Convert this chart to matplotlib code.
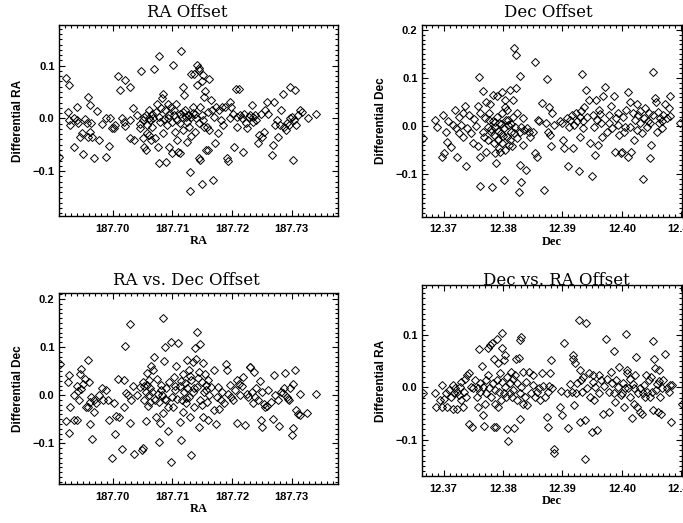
import matplotlib
matplotlib.use('Agg')
from matplotlib import pyplot as plt
from matplotlib.ticker import MultipleLocator, FuncFormatter

ra_offset = [
    (187.69095, -0.073), (187.6922, 0.076), (187.6926, 0.063), (187.6925, 0.013), (187.6927, -0.004),
    (187.6928, -0.013), (187.6935, 0.000), (187.6939, 0.021), (187.6935, -0.054), (187.6940, -0.003),
    (187.6942, -0.009), (187.6944, -0.035), (187.6948, -0.027), (187.6950, -0.068), (187.6954, -0.002),
    (187.6956, -0.009), (187.6959, 0.040), (187.6958, -0.035), (187.6962, 0.025), (187.6963, -0.009),
    (187.6961, -0.025), (187.6965, -0.035), (187.6969, -0.076), (187.6973, 0.014), (187.6976, -0.041),
    (187.6982, -0.011), (187.6988, -0.073), (187.6989, 0.000), (187.6993, -0.053), (187.6996, 0.000),
    (187.6998, -0.019), (187.7002, -0.019), (187.7004, -0.013), (187.7008, 0.080), (187.7012, 0.053),
    (187.7015, 0.001), (187.7018, -0.006), (187.7021, 0.073), (187.7021, -0.015), (187.7028, 0.059),
    (187.7028, -0.003), (187.7029, -0.038), (187.7034, 0.019), (187.7036, -0.041), (187.7040, 0.006),
    (187.7045, -0.019), (187.7048, 0.090), (187.7050, -0.003), (187.7051, -0.038), (187.7053, -0.054),
    (187.7055, -0.059), (187.7056, 0.006), (187.7057, -0.028), (187.7058, -0.013), (187.7060, 0.016),
    (187.7061, -0.032), (187.7063, -0.003), (187.7064, -0.041), (187.7065, 0.009), (187.7069, 0.093),
    (187.7068, 0.000), (187.7071, -0.038), (187.7074, 0.028), (187.7075, -0.054), (187.7077, 0.118),
    (187.7078, 0.003), (187.7078, -0.084), (187.7081, 0.019), (187.7082, 0.038), (187.7084, 0.047),
    (187.7085, -0.028), (187.7086, -0.002), (187.7088, 0.016), (187.7089, -0.082), (187.7091, -0.013),
    (187.7092, 0.028), (187.7094, -0.054), (187.7095, 0.006), (187.7097, 0.022), (187.7099, -0.006),
    (187.7099, -0.065), (187.7101, 0.101), (187.7103, 0.006), (187.7104, -0.025), (187.7106, 0.028),
    (187.7107, -0.003), (187.7108, -0.041), (187.7110, -0.063), (187.7112, 0.009), (187.7113, -0.065),
    (187.7114, 0.128), (187.7116, 0.003), (187.7117, 0.059), (187.7118, -0.022), (187.7120, 0.044),
    (187.7121, 0.016), (187.7123, 0.002), (187.7124, -0.044), (187.7126, 0.006), (187.7127, -0.016),
    (187.7128, 0.006), (187.7130, -0.101), (187.7130, -0.137), (187.7131, 0.084), (187.7132, -0.034),
    (187.7134, 0.022), (187.7135, 0.011), (187.7136, 0.084), (187.7138, -0.025), (187.7140, 0.000),
    (187.7141, 0.101), (187.7142, 0.063), (187.7144, 0.095), (187.7145, 0.092), (187.7145, -0.076),
    (187.7146, -0.079), (187.7147, 0.022), (187.7149, 0.070), (187.7149, -0.125), (187.7151, 0.082),
    (187.7152, -0.003), (187.7153, 0.041), (187.7155, 0.051), (187.7156, -0.060), (187.7158, -0.016),
    (187.7159, 0.013), (187.7160, -0.059), (187.7162, 0.075), (187.7162, -0.022), (187.7164, 0.035),
    (187.7166, 0.016), (187.7168, -0.117), (187.7169, 0.003), (187.7172, -0.047), (187.7173, 0.022),
    (187.7177, -0.028), (187.7179, 0.016), (187.7181, -0.003), (187.7183, 0.022), (187.7185, -0.013),
    (187.7188, 0.022), (187.7191, -0.076), (187.7194, -0.081), (187.7196, 0.032), (187.7197, 0.000),
    (187.7199, 0.022), (187.7202, 0.009), (187.7203, -0.054), (187.7207, 0.055), (187.7208, 0.003),
    (187.7209, -0.016), (187.7212, 0.055), (187.7213, 0.006), (187.7216, 0.000), (187.7218, -0.063),
    (187.7220, 0.009), (187.7223, -0.009), (187.7226, -0.019), (187.7229, 0.003), (187.7231, 0.006),
    (187.7233, 0.025), (187.7235, -0.006), (187.7236, 0.002), (187.7239, 0.006), (187.7241, -0.003),
    (187.7244, -0.047), (187.7246, -0.032), (187.7248, 0.009), (187.7250, -0.035), (187.7253, -0.025),
    (187.7255, 0.016), (187.7258, 0.032), (187.7261, 0.009), (187.7268, -0.070), (187.7269, -0.051),
    (187.7270, 0.032), (187.7272, -0.013), (187.7276, -0.003), (187.7278, -0.035), (187.7280, -0.013),
    (187.7283, 0.016), (187.7286, 0.047), (187.7287, -0.016), (187.7291, -0.022), (187.7293, -0.009),
    (187.7295, -0.013), (187.7297, 0.000), (187.7298, 0.060), (187.7300, 0.003), (187.7302, -0.078),
    (187.7304, -0.003), (187.7306, 0.054), (187.7308, -0.013), (187.7311, 0.006), (187.7314, 0.016),
    (187.7317, 0.013), (187.7328, 0.000), (187.7341, 0.009),
    (187.7046, -0.010), (187.7053, 0.003), (187.7060, 0.000), (187.7065, -0.016), (187.7073, 0.013),
    (187.7079, -0.006), (187.7093, 0.000), (187.7102, 0.016), (187.7113, -0.009), (187.7118, 0.013),
    (187.7125, -0.006), (187.7132, 0.003), (187.7138, 0.009), (187.7144, -0.009), (187.7149, 0.006),
    (187.7153, -0.016),
]

dec_offset = [
    (12.3665, -0.025), (12.3685, 0.013), (12.3688, -0.001), (12.3697, -0.063), (12.3699, 0.024),
    (12.3701, -0.056), (12.3704, -0.013), (12.3705, -0.032), (12.3708, 0.010), (12.3712, -0.044),
    (12.3716, 0.003), (12.3719, 0.034), (12.3721, -0.004), (12.3723, -0.063), (12.3725, 0.020),
    (12.3726, -0.015), (12.3729, 0.003), (12.3732, 0.027), (12.3733, -0.022), (12.3736, 0.042),
    (12.3738, -0.082), (12.3740, -0.004), (12.3743, 0.024), (12.3746, -0.015), (12.3749, -0.035),
    (12.3751, 0.015), (12.3754, 0.001), (12.3757, -0.042), (12.3758, 0.042), (12.3760, 0.103),
    (12.3761, 0.027), (12.3762, -0.063), (12.3762, -0.124), (12.3766, 0.074), (12.3766, -0.011),
    (12.3768, -0.022), (12.3770, 0.017), (12.3771, -0.053), (12.3772, 0.051), (12.3774, -0.001),
    (12.3775, -0.028), (12.3777, 0.027), (12.3778, 0.047), (12.3779, -0.011), (12.3781, -0.126),
    (12.3783, 0.065), (12.3783, 0.010), (12.3784, -0.035), (12.3785, -0.018), (12.3787, -0.056),
    (12.3787, -0.001), (12.3788, -0.076), (12.3789, 0.062), (12.3790, 0.020), (12.3792, -0.028),
    (12.3794, 0.006), (12.3795, -0.053), (12.3796, -0.015), (12.3798, 0.072), (12.3798, 0.027),
    (12.3799, -0.035), (12.3801, -0.004), (12.3802, -0.112), (12.3803, -0.049), (12.3804, 0.055),
    (12.3805, 0.013), (12.3806, -0.022), (12.3807, 0.034), (12.3809, 0.003), (12.3811, -0.028),
    (12.3812, 0.076), (12.3813, -0.011), (12.3815, -0.042), (12.3816, 0.020), (12.3817, 0.055),
    (12.3819, 0.163), (12.3820, -0.001), (12.3822, 0.149), (12.3822, 0.079), (12.3823, -0.025),
    (12.3824, 0.027), (12.3826, -0.136), (12.3828, -0.011), (12.3829, -0.081), (12.3829, 0.105),
    (12.3830, -0.115), (12.3831, -0.001), (12.3833, -0.039), (12.3834, 0.017), (12.3835, -0.008),
    (12.3838, -0.091), (12.3840, -0.004), (12.3843, -0.011), (12.3846, -0.022), (12.3850, -0.011),
    (12.3853, 0.133), (12.3854, -0.056), (12.3857, -0.063), (12.3858, 0.013), (12.3861, 0.010),
    (12.3865, 0.048), (12.3869, -0.133), (12.3872, 0.006), (12.3874, 0.098), (12.3876, -0.011),
    (12.3878, 0.040), (12.3879, -0.018), (12.3880, -0.042), (12.3882, 0.027), (12.3885, 0.003),
    (12.3896, 0.010), (12.3899, 0.006), (12.3901, -0.028), (12.3902, -0.046), (12.3907, 0.017),
    (12.3909, -0.083), (12.3911, -0.001), (12.3913, 0.013), (12.3916, 0.024), (12.3918, -0.046),
    (12.3919, 0.003), (12.3923, 0.027), (12.3925, 0.010), (12.3927, -0.094), (12.3929, -0.022),
    (12.3931, 0.031), (12.3933, 0.109), (12.3934, -0.004), (12.3937, 0.041), (12.3940, 0.076),
    (12.3941, 0.020), (12.3944, 0.055), (12.3946, -0.035), (12.3950, -0.103), (12.3951, 0.024),
    (12.3953, -0.001), (12.3955, -0.060), (12.3957, 0.055), (12.3958, 0.013), (12.3959, -0.039),
    (12.3962, 0.034), (12.3965, 0.006), (12.3966, -0.022), (12.3969, 0.062), (12.3972, 0.081),
    (12.3975, -0.011), (12.3978, 0.006), (12.3979, 0.024), (12.3981, 0.042), (12.3983, -0.004),
    (12.3986, 0.063), (12.3989, -0.053), (12.3990, 0.017), (12.3993, 0.003), (12.3994, 0.027),
    (12.3996, -0.018), (12.3998, -0.056), (12.4000, -0.054), (12.4002, 0.020), (12.4003, -0.011),
    (12.4006, -0.001), (12.4007, 0.034), (12.4010, 0.072), (12.4011, -0.063), (12.4013, -0.001),
    (12.4014, 0.051), (12.4016, -0.053), (12.4019, 0.027), (12.4020, -0.028), (12.4022, 0.013),
    (12.4025, 0.047), (12.4026, -0.008), (12.4028, 0.024), (12.4030, 0.006), (12.4031, 0.031),
    (12.4034, -0.015), (12.4035, -0.110), (12.4037, 0.017), (12.4039, 0.038), (12.4042, -0.001),
    (12.4045, 0.028), (12.4047, 0.006), (12.4048, -0.067), (12.4049, -0.039), (12.4052, 0.024),
    (12.4053, 0.112), (12.4055, 0.058), (12.4057, 0.051), (12.4059, -0.011), (12.4062, 0.006),
    (12.4065, 0.017), (12.4067, -0.004), (12.4070, 0.024), (12.4073, 0.047), (12.4076, 0.017),
    (12.4079, 0.038), (12.4081, 0.062), (12.4081, 0.022), (12.4098, 0.006),
    (12.3780, -0.005), (12.3786, 0.008), (12.3791, -0.010), (12.3797, 0.004), (12.3800, -0.020),
    (12.3808, 0.012), (12.3810, -0.040), (12.3814, 0.005), (12.3818, -0.015), (12.3776, 0.012),
    (12.3793, -0.045), (12.3803, 0.040), (12.3930, 0.020), (12.3935, 0.010), (12.3964, 0.025),
    (12.4044, 0.010), (12.4060, 0.030), (12.4068, 0.010),
]

ra_vs_dec = [
    (187.6911, 0.064), (187.6922, -0.053), (187.6924, 0.028), (187.6926, -0.079), (187.6927, 0.041),
    (187.6928, -0.024), (187.6934, 0.000), (187.6935, -0.052), (187.6939, 0.019), (187.6940, -0.052),
    (187.6941, 0.009), (187.6943, -0.010), (187.6944, 0.045), (187.6946, 0.012), (187.6947, 0.055),
    (187.6950, 0.024), (187.6954, 0.034), (187.6955, -0.024), (187.6958, -0.024), (187.6959, 0.074),
    (187.6960, 0.028), (187.6961, -0.014), (187.6962, -0.059), (187.6963, -0.003), (187.6965, -0.090),
    (187.6968, -0.034), (187.6969, -0.010), (187.6972, -0.017), (187.6976, 0.000), (187.6982, 0.014),
    (187.6984, -0.009), (187.6989, 0.010), (187.6991, -0.010), (187.6993, -0.052), (187.6998, -0.131),
    (187.7002, -0.016), (187.7004, -0.081), (187.7006, -0.043), (187.7008, 0.034), (187.7011, -0.045),
    (187.7015, -0.112), (187.7018, -0.024), (187.7019, 0.032), (187.7021, 0.103), (187.7022, 0.005),
    (187.7026, 0.000), (187.7028, -0.057), (187.7029, 0.148), (187.7030, -0.010), (187.7034, 0.019),
    (187.7036, -0.122), (187.7040, 0.000), (187.7046, 0.017), (187.7049, -0.114), (187.7050, -0.110),
    (187.7051, 0.028), (187.7053, -0.010), (187.7055, 0.007), (187.7056, -0.053), (187.7057, 0.046),
    (187.7058, 0.021), (187.7059, -0.023), (187.7060, 0.000), (187.7061, 0.031), (187.7063, 0.014),
    (187.7064, 0.060), (187.7066, 0.007), (187.7068, 0.052), (187.7069, 0.079), (187.7070, -0.010),
    (187.7072, -0.045), (187.7074, 0.034), (187.7075, 0.003), (187.7077, -0.014), (187.7078, -0.097),
    (187.7079, -0.057), (187.7081, 0.021), (187.7083, 0.000), (187.7084, 0.161), (187.7085, -0.038),
    (187.7086, 0.072), (187.7087, -0.007), (187.7088, 0.101), (187.7089, 0.014), (187.7092, -0.024),
    (187.7093, -0.074), (187.7095, 0.028), (187.7097, 0.110), (187.7098, -0.138), (187.7099, -0.003),
    (187.7101, -0.024), (187.7103, 0.037), (187.7104, 0.010), (187.7106, 0.060), (187.7108, -0.007),
    (187.7110, 0.108), (187.7112, -0.055), (187.7113, 0.019), (187.7114, -0.093), (187.7116, -0.010),
    (187.7117, -0.034), (187.7118, 0.045), (187.7120, 0.007), (187.7121, 0.026), (187.7123, -0.017),
    (187.7124, 0.074), (187.7125, 0.016), (187.7127, 0.052), (187.7128, -0.003), (187.7130, -0.045),
    (187.7131, -0.124), (187.7132, 0.031), (187.7134, 0.007), (187.7135, 0.069), (187.7136, -0.024),
    (187.7138, 0.099), (187.7140, 0.076), (187.7141, 0.131), (187.7142, 0.017), (187.7144, -0.066),
    (187.7145, 0.048), (187.7146, -0.009), (187.7147, 0.107), (187.7149, 0.028), (187.7151, -0.045),
    (187.7152, 0.066), (187.7153, 0.007), (187.7155, 0.045), (187.7156, 0.021), (187.7158, -0.014),
    (187.7159, -0.052), (187.7160, 0.031), (187.7162, 0.000), (187.7164, 0.017), (187.7169, 0.052),
    (187.7170, -0.031), (187.7173, -0.059), (187.7174, -0.003), (187.7177, 0.017), (187.7179, -0.028),
    (187.7181, -0.010), (187.7184, 0.007), (187.7186, -0.016), (187.7190, 0.064), (187.7191, 0.052),
    (187.7194, 0.003), (187.7197, 0.021), (187.7199, -0.003), (187.7202, -0.010), (187.7205, 0.010),
    (187.7208, 0.031), (187.7209, -0.057), (187.7212, 0.024), (187.7213, 0.000), (187.7216, 0.019),
    (187.7218, 0.038), (187.7222, -0.062), (187.7225, 0.003), (187.7227, -0.003), (187.7230, 0.059),
    (187.7231, 0.059), (187.7233, 0.007), (187.7235, -0.017), (187.7237, 0.048), (187.7239, -0.003),
    (187.7241, 0.014), (187.7244, -0.010), (187.7247, 0.030), (187.7249, -0.052), (187.7250, -0.066),
    (187.7251, 0.007), (187.7254, -0.019), (187.7255, -0.024), (187.7258, -0.023), (187.7261, 0.010),
    (187.7266, -0.014), (187.7269, -0.050), (187.7270, 0.043), (187.7273, 0.000), (187.7278, -0.010),
    (187.7279, -0.064), (187.7282, 0.007), (187.7285, 0.005), (187.7287, 0.014), (187.7289, 0.046),
    (187.7292, -0.003), (187.7294, -0.007), (187.7296, -0.010), (187.7297, 0.016), (187.7300, -0.083),
    (187.7302, 0.023), (187.7303, -0.069), (187.7306, 0.053), (187.7308, -0.031), (187.7311, -0.039),
    (187.7314, 0.002), (187.7315, -0.041), (187.7326, -0.038), (187.7341, 0.003),
    (187.7052, 0.020), (187.7062, -0.015), (187.7080, 0.010), (187.7090, -0.010), (187.7105, 0.020),
    (187.7115, 0.030), (187.7122, -0.005), (187.7129, 0.040), (187.7137, 0.015), (187.7143, 0.035),
    (187.7150, -0.020), (187.7157, 0.010),
]

dec_vs_ra = [
    (12.3666, -0.011), (12.3685, -0.011), (12.3687, -0.038), (12.3693, -0.024), (12.3697, 0.004),
    (12.3698, -0.037), (12.3701, -0.023), (12.3704, -0.011), (12.3706, -0.037), (12.3709, -0.005),
    (12.3712, -0.018), (12.3715, -0.042), (12.3716, 0.004), (12.3717, -0.011), (12.3719, -0.002),
    (12.3722, -0.008), (12.3723, -0.042), (12.3725, -0.015), (12.3728, 0.001), (12.3729, -0.024),
    (12.3730, 0.011), (12.3732, -0.037), (12.3734, -0.008), (12.3736, 0.017), (12.3738, -0.018),
    (12.3739, 0.024), (12.3742, 0.027), (12.3743, -0.069), (12.3746, 0.001), (12.3747, -0.075),
    (12.3750, -0.002), (12.3753, 0.014), (12.3756, -0.018), (12.3757, -0.002), (12.3758, -0.037),
    (12.3760, 0.073), (12.3761, 0.008), (12.3762, -0.008), (12.3764, 0.041), (12.3766, -0.053),
    (12.3767, 0.001), (12.3768, -0.074), (12.3770, -0.031), (12.3771, 0.014), (12.3772, -0.011),
    (12.3774, 0.075), (12.3775, 0.024), (12.3777, -0.002), (12.3778, 0.081), (12.3779, -0.018),
    (12.3781, 0.085), (12.3783, 0.008), (12.3784, -0.075), (12.3785, 0.055), (12.3786, -0.031),
    (12.3787, -0.005), (12.3788, -0.076), (12.3789, 0.092), (12.3790, 0.014), (12.3792, -0.037),
    (12.3792, 0.047), (12.3794, -0.008), (12.3795, 0.027), (12.3796, -0.024), (12.3798, 0.011),
    (12.3798, 0.076), (12.3799, 0.103), (12.3801, -0.010), (12.3802, 0.052), (12.3803, 0.001),
    (12.3804, 0.062), (12.3805, -0.018), (12.3806, -0.080), (12.3807, 0.020), (12.3809, -0.102),
    (12.3811, -0.011), (12.3812, 0.008), (12.3813, 0.030), (12.3815, -0.018), (12.3816, 0.017),
    (12.3817, -0.005), (12.3819, -0.078), (12.3820, 0.024), (12.3822, 0.054), (12.3823, 0.008),
    (12.3824, -0.024), (12.3826, 0.057), (12.3828, -0.010), (12.3829, 0.090), (12.3830, 0.096),
    (12.3831, 0.001), (12.3829, -0.061), (12.3833, -0.031), (12.3834, 0.030), (12.3837, -0.018),
    (12.3839, 0.011), (12.3841, -0.034), (12.3844, 0.030), (12.3847, -0.011), (12.3850, 0.004),
    (12.3851, 0.024), (12.3854, -0.018), (12.3857, -0.008), (12.3860, -0.002), (12.3862, -0.024),
    (12.3865, 0.027), (12.3868, 0.003), (12.3871, -0.018), (12.3874, -0.056), (12.3875, -0.075),
    (12.3876, -0.008), (12.3878, 0.003), (12.3879, 0.027), (12.3880, 0.052), (12.3882, -0.002),
    (12.3885, -0.117), (12.3886, -0.125), (12.3896, -0.037), (12.3897, -0.006), (12.3899, -0.053),
    (12.3903, 0.084), (12.3907, -0.010), (12.3910, -0.078), (12.3912, 0.006), (12.3916, -0.008),
    (12.3917, 0.062), (12.3918, 0.054), (12.3920, -0.034), (12.3921, 0.046), (12.3923, -0.011),
    (12.3925, 0.008), (12.3927, 0.129), (12.3929, 0.033), (12.3930, -0.066), (12.3931, 0.014),
    (12.3933, -0.008), (12.3935, 0.020), (12.3938, -0.062), (12.3938, -0.137), (12.3940, 0.122),
    (12.3941, -0.002), (12.3944, 0.027), (12.3947, -0.018), (12.3950, -0.085), (12.3951, 0.024),
    (12.3952, 0.011), (12.3953, -0.024), (12.3955, 0.001), (12.3958, -0.082), (12.3961, 0.024),
    (12.3962, -0.011), (12.3965, 0.014), (12.3968, -0.050), (12.3970, 0.003), (12.3974, 0.092),
    (12.3975, 0.017), (12.3978, -0.046), (12.3979, -0.008), (12.3981, 0.030), (12.3983, 0.008),
    (12.3986, 0.070), (12.3987, -0.011), (12.3989, -0.027), (12.3990, 0.014), (12.3993, 0.001),
    (12.3996, 0.039), (12.3998, -0.015), (12.4000, -0.011), (12.4002, 0.008), (12.4004, -0.037),
    (12.4006, -0.002), (12.4007, 0.102), (12.4008, 0.027), (12.4009, 0.033), (12.4011, -0.002),
    (12.4013, 0.017), (12.4014, -0.018), (12.4017, -0.059), (12.4019, 0.006), (12.4020, -0.031),
    (12.4021, -0.002), (12.4022, 0.024), (12.4024, 0.059), (12.4026, -0.037), (12.4028, -0.011),
    (12.4030, -0.046), (12.4031, -0.002), (12.4034, -0.051), (12.4035, -0.011), (12.4037, 0.004),
    (12.4039, -0.018), (12.4041, 0.024), (12.4043, -0.008), (12.4045, 0.014), (12.4047, -0.018),
    (12.4049, 0.020), (12.4051, -0.008), (12.4052, 0.089), (12.4053, -0.043), (12.4054, 0.055),
    (12.4056, 0.038), (12.4058, -0.005), (12.4059, 0.006), (12.4060, -0.046), (12.4062, 0.013),
    (12.4063, 0.034), (12.4065, -0.018), (12.4066, -0.051), (12.4067, -0.002), (12.4070, 0.015),
    (12.4073, 0.064), (12.4076, -0.002), (12.4079, -0.008), (12.4081, 0.004), (12.4083, -0.066),
    (12.4084, 0.004), (12.4101, -0.031),
]

ra_range = (187.6909, 187.7378)
dec_range = (12.3663, 12.4102)

panels = [
    # data, title, xlabel, ylabel, xlim, ylim, axes box [l, b, w, h], title centre (x, y)
    (ra_offset, 'RA Offset', 'RA', 'Differential RA', ra_range, (-0.185, 0.177),
     [0.0859, 0.587, 0.409, 0.3652], (0.2745, 0.9757)),
    (dec_offset, 'Dec Offset', 'Dec', 'Differential Dec', dec_range, (-0.188, 0.2104),
     [0.6174, 0.5857, 0.3818, 0.3665], (0.8024, 0.9757)),
    (ra_vs_dec, 'RA vs. Dec Offset', 'RA', 'Differential Dec', ra_range, (-0.1845, 0.2118),
     [0.0859, 0.0746, 0.409, 0.3646], (0.2734, 0.4633)),
    (dec_vs_ra, 'Dec vs. RA Offset', 'Dec', 'Differential RA', dec_range, (-0.169, 0.1955),
     [0.6174, 0.0899, 0.3818, 0.3652], (0.8140, 0.4633)),
]

minus = lambda s: s.replace('-', '\u2212')

fig = plt.figure(figsize=(6.83, 5.23), dpi=100)

for pts, title, xlab, ylab, xlim, ylim, box, tpos in panels:
    ax = fig.add_axes(box)
    xs = [p[0] for p in pts]
    ys = [p[1] for p in pts]
    ax.plot(xs, ys, linestyle='none', marker='D', markersize=3.9,
            markerfacecolor='none', markeredgecolor='black', markeredgewidth=0.7)
    ax.set_xlim(*xlim)
    ax.set_ylim(*ylim)

    ax.xaxis.set_major_locator(MultipleLocator(0.01))
    ax.xaxis.set_minor_locator(MultipleLocator(0.001))
    ax.yaxis.set_major_locator(MultipleLocator(0.1))
    ax.yaxis.set_minor_locator(MultipleLocator(0.01))
    ax.xaxis.set_major_formatter(FuncFormatter(lambda v, p: minus('%.2f' % v)))
    ax.yaxis.set_major_formatter(FuncFormatter(lambda v, p: minus('%.1f' % v)))

    ax.tick_params(which='both', direction='in', top=True, right=True, width=0.8)
    ax.tick_params(which='major', length=4)
    ax.tick_params(which='minor', length=2)
    ax.tick_params(axis='x', pad=5.5)
    ax.tick_params(axis='y', pad=3)
    for lbl in ax.get_xticklabels() + ax.get_yticklabels():
        lbl.set_fontfamily('Liberation Sans')
        lbl.set_fontweight('bold')
        lbl.set_fontsize(8)
    for sp in ax.spines.values():
        sp.set_linewidth(1.0)

    ax.set_xlabel(xlab, fontfamily='Liberation Serif', fontweight='bold', fontsize=9, labelpad=1)
    ax.set_ylabel(ylab, fontfamily='Liberation Sans', fontweight='bold', fontsize=8.5, labelpad=6)
    fig.text(tpos[0], tpos[1], title, ha='center', va='center', fontfamily='DejaVu Serif', fontsize=12)

fig.savefig('out.png', dpi=100)
